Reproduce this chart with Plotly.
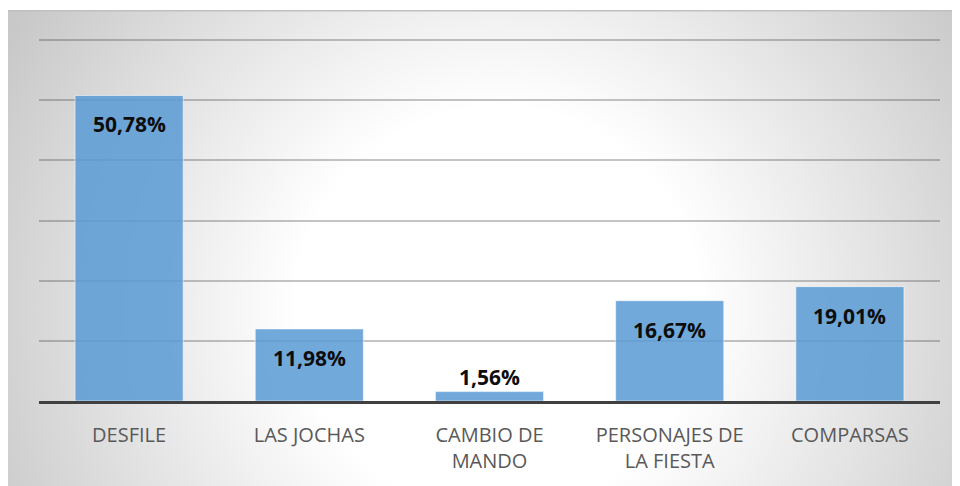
import base64
import plotly.graph_objects as go

categories = ["DESFILE", "LAS JOCHAS", "CAMBIO DE<br>MANDO", "PERSONAJES DE<br>LA FIESTA", "COMPARSAS"]
values = [50.78, 11.98, 1.56, 16.67, 19.01]
labels = ["50,78%", "11,98%", "1,56%", "16,67%", "19,01%"]

# page body has an 8px margin, so the figure starts at page (8, 8)
W, H = 952, 478
ML, MR, MT, MB = 31, 20, 31, 85
pw, ph = W - ML - MR, H - MT - MB

BW, BH = 952, 476  # chart background box
svg = (
    f'<svg xmlns="http://www.w3.org/2000/svg" width="{BW}" height="{BH}" viewBox="0 0 {BW} {BH}" preserveAspectRatio="none">'
    '<defs><radialGradient id="g" cx="490" cy="300" r="560" gradientUnits="userSpaceOnUse">'
    '<stop offset="0" stop-color="#ffffff"/><stop offset="0.36" stop-color="#ffffff"/>'
    '<stop offset="1" stop-color="#c8c8c8"/></radialGradient></defs>'
    f'<rect x="0" y="0" width="{BW}" height="{BH}" fill="url(#g)"/>'
    f'<line x1="0" y1="0.75" x2="{BW}" y2="0.75" stroke="#c0c0c0" stroke-width="1.5"/>'
    '</svg>'
)
src = "data:image/svg+xml;base64," + base64.b64encode(svg.encode()).decode()

x0 = (0 - ML) / pw
x1 = (BW - ML) / pw
ytop = (H - MB - 2) / ph
ybot = (H - MB - 478) / ph

fig = go.Figure()
fig.add_trace(go.Bar(
    x=categories, y=values, width=0.6,
    marker=dict(color="rgba(91,155,213,0.86)", line=dict(color="rgba(255,255,255,0.55)", width=1)),
    hoverinfo="skip",
))

for c, v, t in zip(categories, values, labels):
    fig.add_annotation(
        x=c, y=v, text=f"<b>{t}</b>", showarrow=False,
        yanchor="middle", yshift=(15 if v < 5 else -29),
        font=dict(family="Open Sans", size=21, color="#0d0d0d"),
    )

fig.add_layout_image(
    source=src, xref="paper", yref="paper", x=x0, y=ytop,
    sizex=x1 - x0, sizey=ytop - ybot, xanchor="left", yanchor="top",
    sizing="stretch", layer="below",
)

fig.update_layout(
    width=W, height=H,
    margin=dict(l=ML, r=MR, t=MT, b=MB),
    paper_bgcolor="white", plot_bgcolor="rgba(0,0,0,0)",
    showlegend=False, bargap=0.4,
    font=dict(family="Open Sans", size=20, color="#595959"),
)
fig.update_xaxes(
    showline=True, linecolor="#404040", linewidth=3, ticks="",
    tickfont=dict(family="Open Sans", size=20, color="#595959"),
    showgrid=False, ticklabelstandoff=14,
)
fig.update_yaxes(
    range=[0, 60.17], tickvals=[10, 20, 30, 40, 50, 60], showticklabels=False, showgrid=True,
    gridcolor="rgba(60,60,60,0.3)", gridwidth=1.5, zeroline=False, showline=False,
)

fig.write_html("out.html")
